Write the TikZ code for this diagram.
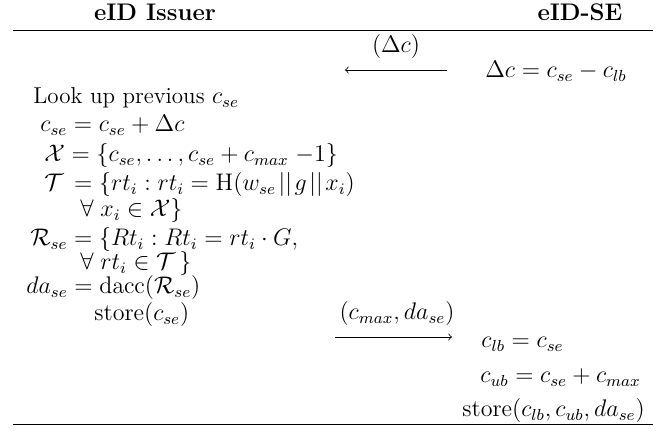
\documentclass[tikz,border=0pt]{standalone}
\usepackage{amsmath,amssymb}
\begin{document}
\begin{tikzpicture}[x=0.5pt,y=-0.5pt,
  txt/.style={inner sep=0pt, anchor=base west, font=\fontsize{11.5}{13}\selectfont},
  ctr/.style={inner sep=0pt, anchor=base, font=\fontsize{11.5}{13}\selectfont},
  hdr/.style={inner sep=0pt, anchor=base, font=\fontsize{12}{14}\selectfont\bfseries},
  rule/.style={line width=0.5pt},
  msg/.style={line width=0.4pt, -to}]
\useasboundingbox (0,0) rectangle (670,431);
% headers
\node[hdr] (hI) at (155,21) {eID Issuer};
\node[hdr] (hS) at (580,21) {eID-SE};
\coordinate (rtl) at (13,31); \coordinate (rtr) at (653,31);
\draw[rule] (rtl) -- (rtr);
\coordinate (rbl) at (13,425); \coordinate (rbr) at (653,425);
\draw[rule] (rbl) -- (rbr);
% message 1
\node[ctr] (l1) at (396,53) {$(\Delta c)$};
\coordinate (a1s) at (447,70); \coordinate (a1e) at (345,70);
\draw[msg] (a1s) -- (a1e);
\node[txt] (dc) at (485,78) {$\Delta c = c_{se} - c_{lb}$};
% issuer side
\node[txt] (look) at (33,104) {Look up previous $c_{se}$};
\node[txt] (cse) at (40,132) {$c_{se} = c_{se} + \Delta c$};
\node[txt] (X) at (44,162) {$\mathcal{X} = \{c_{se}, \ldots, c_{se} + c_{max}\;{-}1\}$};
\node[txt] (T) at (44,191) {$\mathcal{T} \,= \{rt_i : rt_i = \mathrm{H}(w_{se}\mkern2mu||\mkern2mu g\mkern2mu||\mkern2mu x_i)$};
\node[txt] (T2) at (80,217) {$\forall\; x_i \in \mathcal{X}\}$};
\node[txt] (R) at (30,246) {$\mathcal{R}_{se} = \{Rt_i : Rt_i = rt_i \cdot G,$};
\node[txt] (R2) at (80,270) {$\forall\; rt_i \in \mathcal{T}\,\}$};
\node[txt] (da) at (26,294) {$da_{se} = \mathrm{dacc}(\mathcal{R}_{se})$};
\node[txt] (st1) at (94,321) {$\mathrm{store}(c_{se})$};
% message 2
\node[ctr] (l2) at (397,320) {$(c_{max}, da_{se})$};
\coordinate (a2s) at (335,337); \coordinate (a2e) at (452,337);
\draw[msg] (a2s) -- (a2e);
% SE side
\node[txt] (clb) at (481,348) {$c_{lb} = c_{se}$};
\node[txt] (cub) at (480,383) {$c_{ub} = c_{se} + c_{max}$};
\node[txt] (st2) at (462,417) {$\mathrm{store}(c_{lb}, c_{ub}, da_{se})$};
\end{tikzpicture}
\end{document}
